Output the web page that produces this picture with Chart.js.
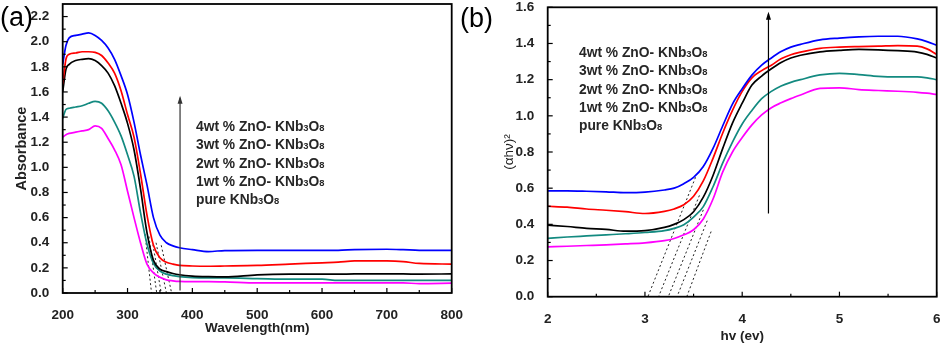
<!DOCTYPE html>
<html><head><meta charset="utf-8">
<script src="https://cdn.jsdelivr.net/npm/chart.js@4.4.1/dist/chart.umd.min.js"></script>
<style>
html,body{margin:0;padding:0;background:#fff;width:940px;height:346px;overflow:hidden}
#ca{position:absolute;left:0;top:0}
#cb{position:absolute;left:440px;top:0}
</style></head><body>
<canvas id="ca" width="470" height="346"></canvas>
<canvas id="cb" width="500" height="346"></canvas>
<script>
// ---------- Panel (a): absorbance vs wavelength ----------
const waveA = [200,205,210,220,230,240,250,260,270,280,290,300,310,320,330,340,350,360,370,380,400,425,450,500,550,600,625,650,700,725,750,800];
const absZnO4 = [1.82,1.97,2.03,2.05,2.06,2.07,2.05,2.01,1.95,1.86,1.73,1.58,1.36,1.10,0.86,0.60,0.46,0.40,0.375,0.36,0.345,0.33,0.338,0.34,0.34,0.34,0.34,0.345,0.348,0.345,0.34,0.34];
const absZnO3 = [1.66,1.86,1.90,1.91,1.92,1.92,1.915,1.89,1.83,1.75,1.61,1.42,1.24,0.95,0.62,0.38,0.28,0.245,0.23,0.22,0.215,0.213,0.215,0.22,0.23,0.24,0.245,0.255,0.255,0.25,0.235,0.23];
const absZnO2 = [1.60,1.78,1.82,1.85,1.86,1.865,1.85,1.81,1.75,1.65,1.51,1.35,1.14,0.83,0.48,0.26,0.19,0.17,0.155,0.145,0.135,0.13,0.128,0.145,0.15,0.15,0.15,0.152,0.152,0.152,0.15,0.152];
const absZnO1 = [1.39,1.46,1.47,1.48,1.49,1.51,1.525,1.51,1.45,1.36,1.25,1.10,0.93,0.64,0.39,0.236,0.175,0.15,0.138,0.13,0.122,0.12,0.12,0.115,0.11,0.11,0.10,0.10,0.10,0.10,0.10,0.10];
const absPure = [1.24,1.26,1.27,1.28,1.29,1.30,1.33,1.31,1.23,1.14,1.02,0.81,0.60,0.40,0.23,0.16,0.125,0.105,0.097,0.092,0.09,0.09,0.088,0.08,0.08,0.08,0.08,0.08,0.08,0.08,0.075,0.078];
// tangent (extrapolation) lines of panel (a)
const tanATopX = [327,333,338,344,352];
const tanATopY = [0.47,0.45,0.42,0.40,0.38];
const tanABotX = [337,345,352,360,368];
const arrowA = [381, 0.02, 1.57];   // x, y start, y end

// ---------- Panel (b): (αhν)^2 vs hν ----------
const energyB = [2.0,2.2,2.4,2.6,2.8,3.0,3.2,3.3,3.4,3.5,3.6,3.7,3.8,3.9,4.0,4.1,4.2,4.3,4.4,4.5,4.6,4.8,5.0,5.2,5.4,5.6,5.8,5.9,6.0];
const taucZnO4 = [0.585,0.585,0.583,0.58,0.575,0.578,0.59,0.60,0.625,0.66,0.72,0.82,0.945,1.065,1.15,1.225,1.28,1.32,1.355,1.38,1.395,1.42,1.43,1.437,1.44,1.44,1.425,1.41,1.39];
const taucZnO3 = [0.50,0.495,0.485,0.478,0.47,0.46,0.472,0.485,0.508,0.555,0.64,0.765,0.905,1.03,1.135,1.21,1.25,1.28,1.315,1.338,1.352,1.373,1.38,1.383,1.385,1.388,1.385,1.37,1.34];
const taucZnO2 = [0.396,0.388,0.378,0.372,0.362,0.365,0.383,0.40,0.426,0.47,0.55,0.67,0.82,0.96,1.07,1.17,1.22,1.26,1.295,1.32,1.335,1.354,1.362,1.367,1.365,1.36,1.352,1.34,1.32];
const taucZnO1 = [0.323,0.33,0.336,0.342,0.348,0.355,0.365,0.378,0.398,0.44,0.498,0.608,0.74,0.855,0.955,1.03,1.095,1.135,1.165,1.185,1.20,1.226,1.235,1.228,1.218,1.215,1.215,1.21,1.20];
const taucPure = [0.276,0.279,0.283,0.287,0.292,0.298,0.31,0.322,0.342,0.37,0.43,0.54,0.69,0.80,0.88,0.95,1.005,1.045,1.072,1.095,1.115,1.152,1.155,1.145,1.14,1.136,1.13,1.125,1.118];
const tanBTopX = [3.52,3.56,3.60,3.64,3.68];
const tanBTopY = [0.66,0.56,0.48,0.42,0.36];
const tanBBotX = [3.03,3.14,3.24,3.33,3.43];
const arrowB = [4.27, 0.46, 1.575];

// ---------- labels ----------
const seriesLabels = ['4wt % ZnO- KNb3O8','3wt % ZnO- KNb3O8','2wt % ZnO- KNb3O8','1wt % ZnO- KNb3O8','pure KNb3O8'];
const seriesColors = ['#0000ff','#ff0000','#000000','#138a80','#ff00ff'];

const FONT = "'Liberation Sans', Arial, sans-serif";
const tickFont = {family: FONT, size: 13.5, weight: 'bold'};

function mkSeries(xs, ys, i) {
  return {label: seriesLabels[i], data: xs.map((x, k) => ({x, y: ys[k]})),
    borderColor: seriesColors[i], borderWidth: 1.7, pointRadius: 0, fill: false,
    cubicInterpolationMode: 'monotone'};
}
function mkTangents(tx, ty, bx) {
  return tx.map((t, i) => ({label: '_tan' + i, data: [{x: t, y: ty[i]}, {x: bx[i], y: 0}],
    borderColor: '#222', borderWidth: 1, borderDash: [2, 2.5], pointRadius: 0, fill: false}));
}

function drawRichText(ctx, text, x, y, size) {
  let cx = x;
  for (let i = 0; i < text.length; i++) {
    const ch = text[i];
    const small = /[0-9]/.test(ch) && i > 0 && /[A-Za-z]/.test(text[i - 1]);
    ctx.font = 'bold ' + (small ? size * 0.68 : size) + 'px ' + FONT;
    ctx.fillText(ch, cx, y);
    cx += ctx.measureText(ch).width;
  }
}

const decor = {
  id: 'decor',
  afterDatasetsDraw(chart, args, o) {
    const {ctx, chartArea: a, scales: {x, y}} = chart;
    ctx.save();
    ctx.strokeStyle = '#000';
    ctx.lineWidth = 1.2;
    const xt = x.ticks.map(t => t.value), yt = y.ticks.map(t => t.value);
    const seg = (x1, y1, x2, y2) => { ctx.beginPath(); ctx.moveTo(x1, y1); ctx.lineTo(x2, y2); ctx.stroke(); };
    xt.forEach((v, i) => {
      const p = x.getPixelForValue(v);
      seg(p, a.bottom, p, a.bottom - 5);
      if (i < xt.length - 1) { const m = x.getPixelForValue((v + xt[i + 1]) / 2); seg(m, a.bottom, m, a.bottom - 3); }
    });
    yt.forEach((v, i) => {
      const p = y.getPixelForValue(v);
      seg(a.left, p, a.left + 5, p);
      const nv = i < yt.length - 1 ? yt[i + 1] : v + (yt[1] - yt[0]);
      const m = y.getPixelForValue((v + nv) / 2);
      if (m > a.top) seg(a.left, m, a.left + 3, m);
    });
    // frame
    ctx.lineWidth = 1.8;
    ctx.strokeRect(a.left, a.top, a.right - a.left, a.bottom - a.top);
    // arrow
    const ax = x.getPixelForValue(o.arrow[0]);
    const ay0 = y.getPixelForValue(o.arrow[1]), ay1 = y.getPixelForValue(o.arrow[2]);
    ctx.strokeStyle = o.arrowColor; ctx.fillStyle = o.arrowColor; ctx.lineWidth = 1.2;
    seg(ax, ay0, ax, ay1 + 2);
    ctx.beginPath(); ctx.moveTo(ax, ay1); ctx.lineTo(ax - 2.5, ay1 + 8); ctx.lineTo(ax + 2.5, ay1 + 8); ctx.closePath(); ctx.fill();
    // panel label
    ctx.fillStyle = '#000';
    ctx.font = '27px ' + FONT;
    ctx.textBaseline = 'middle';
    ctx.fillText(o.panel, o.panelX, o.panelY);
    // text legend
    ctx.fillStyle = '#262626';
    ctx.textBaseline = 'alphabetic';
    seriesLabels.forEach((s, i) => drawRichText(ctx, s, o.legX, o.legY + i * 18.3, 13.8));
    ctx.restore();
  }
};

function makeChart(id, cfg) {
  return new Chart(document.getElementById(id), {
    type: 'line',
    data: {datasets: cfg.datasets},
    options: {
      responsive: false, animation: false, devicePixelRatio: 1,
      layout: {padding: cfg.padding},
      plugins: {legend: {display: false}, tooltip: {enabled: false}, decor: cfg.decor},
      scales: {
        x: {type: 'linear', min: cfg.xMin, max: cfg.xMax,
          ticks: {stepSize: cfg.xStep, padding: 6, font: tickFont, color: '#222', maxRotation: 0},
          grid: {display: false}, border: {display: false},
          title: {display: true, text: cfg.xTitle, color: '#222', font: {family: FONT, size: 13.5, weight: 'bold'}, padding: {top: 0, bottom: cfg.xTitlePad}},
          afterFit(s) { s.height = cfg.xHeight; s.paddingLeft = 0; s.paddingRight = 0; }},
        y: {type: 'linear', min: 0, max: cfg.yMax,
          ticks: {stepSize: 0.2, includeBounds: false, padding: 5.5, font: tickFont, color: '#222', callback: v => v.toFixed(1)},
          grid: {display: false}, border: {display: false},
          title: {display: true, text: cfg.yTitle, color: '#222', font: cfg.yTitleFont, padding: {top: cfg.yTitlePad, bottom: 0}},
          afterFit(s) { s.width = cfg.yWidth; s.paddingTop = 0; s.paddingBottom = 0; }}
      }
    },
    plugins: [decor]
  });
}

makeChart('ca', {
  datasets: [absZnO4, absZnO3, absZnO2, absZnO1, absPure].map((d, i) => mkSeries(waveA, d, i)).concat(mkTangents(tanATopX, tanATopY, tanABotX)),
  padding: {left: 0, right: 18.3, top: 4, bottom: 0},
  xMin: 200, xMax: 800, xStep: 100, yMax: 2.3,
  xTitle: 'Wavelength(nm)', xTitlePad: 10, xHeight: 53,
  yTitle: 'Absorbance', yTitleFont: {family: FONT, size: 14.5, weight: 'bold'}, yTitlePad: 13.5, yWidth: 62.7,
  decor: {arrow: arrowA, arrowColor: '#333', panel: '(a)', panelX: 0, panelY: 19, legX: 196, legY: 131}
});

makeChart('cb', {
  datasets: [taucZnO4, taucZnO3, taucZnO2, taucZnO1, taucPure].map((d, i) => mkSeries(energyB, d, i)).concat(mkTangents(tanBTopX, tanBTopY, tanBBotX)),
  padding: {left: 0, right: 3.3, top: 7.3, bottom: 0},
  xMin: 2, xMax: 6, xStep: 1, yMax: 1.6,
  xTitle: 'hv (ev)', xTitlePad: 2, xHeight: 49.3,
  yTitle: '(αhν)²', yTitleFont: {family: FONT, size: 13.5, weight: 'normal'}, yTitlePad: 61, yWidth: 107.7,
  decor: {arrow: arrowB, arrowColor: '#000', panel: '(b)', panelX: 20, panelY: 20, legX: 139, legY: 57}
});
</script></body></html>
